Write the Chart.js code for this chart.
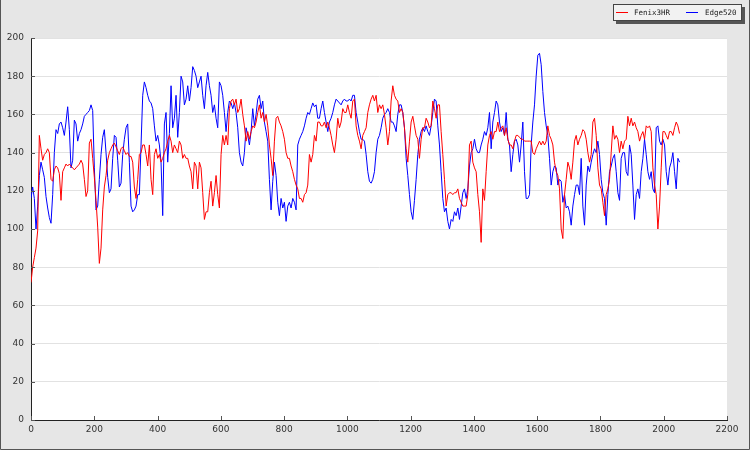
<!DOCTYPE html>
<html>
<head>
<meta charset="utf-8">
<script src="https://cdn.jsdelivr.net/npm/chart.js@4.4.1/dist/chart.umd.min.js"></script>
<style>
html,body{margin:0;padding:0;background:#e6e6e6;}
#c{display:block;}
</style>
</head>
<body>
<canvas id="c" width="750" height="450"></canvas>
<script>
// ---- data ----
const seriesNames = ["Fenix3HR", "Edge520"];
const sampleStep = 5.27; // distance between successive samples
const xTicks = [0, 200, 400, 600, 800, 1000, 1200, 1400, 1600, 1800, 2000, 2200];
const yTicks = [0, 20, 40, 60, 80, 100, 120, 140, 160, 180, 200];

const fenix = [
 72,80,85,90,99,149,142,136,139,140,142,140,126,125,131,133,132,129,115,130,132,134,133,134,133,132,131,132,133,134,136,134,126,117,120,145,147,137,127,115,101,82,90,110,122,128,136,140,142,144,145,143,141,139,142,143,141,139,140,138,138,135,122,116,126,
 139,140,144,144,139,133,144,126,118,139,142,137,139,135,137,140,142,146,149,146,140,144,142,140,146,144,137,139,137,137,133,130,121,135,133,121,135,132,119,105,109,109,119,125,112,119,128,118,111,139,149,144,149,144,163,167,168,165,168,161,163,168,160,154,146,151,147,151,154,
 153,156,161,165,158,161,156,160,154,144,137,128,146,158,159,156,154,151,147,140,137,137,133,130,126,123,121,116,116,114,118,119,123,139,135,139,149,146,156,156,154,154,156,153,156,153,149,144,140,147,158,153,156,163,161,161,165,161,158,167,168,154,149,146,142,149,151,153,161,
 165,168,170,167,170,161,165,163,165,160,153,144,151,167,175,170,168,167,161,163,161,153,142,135,146,156,159,154,149,147,137,147,153,153,158,156,153,154,167,163,158,165,165,151,139,126,112,118,119,119,118,119,119,121,116,114,112,112,112,118,144,146,135,132,130,118,109,93,121,
 115,130,144,149,151,147,151,151,156,151,153,154,149,153,147,144,144,142,146,149,149,148,147,147,146,146,146,146,146,140,139,142,144,146,144,146,144,146,154,149,147,144,135,130,128,121,100,95,118,126,135,132,126,135,146,149,144,147,149,152,151,147,140,135,139,156,158,149,132,
 123,121,114,107,118,121,126,140,154,147,149,147,140,146,142,146,147,159,154,158,154,156,153,151,146,149,151,147,154,153,154,151,132,123,118,100,112,132,151,151,149,147,151,151,149,153,156,154,150
];

const edge = [
 116,122,116,100,112,128,135,131,127,117,111,106,103,118,140,152,150,155,156,153,149,156,164,152,132,136,157,155,146,150,152,155,159,160,161,162,165,162,132,110,112,126,139,148,152,140,127,119,121,137,149,148,136,122,124,139,147,153,155,135,112,109,110,112,118,
 118,144,170,177,174,170,167,166,163,154,146,149,144,135,107,155,161,135,150,175,153,158,170,148,161,180,177,165,168,175,167,174,185,183,180,174,177,180,170,163,175,182,175,170,161,165,158,153,177,175,170,161,151,161,167,166,163,166,161,153,140,135,133,140,153,149,144,151,163,
 154,160,168,170,163,167,156,151,146,126,110,125,135,128,114,107,116,111,114,104,112,114,111,116,114,110,144,147,149,151,154,158,161,160,163,166,164,165,158,158,163,167,161,156,151,156,158,161,165,168,167,166,165,167,168,167,167,168,167,170,170,161,156,151,147,147,146,139,130,
 125,124,126,130,140,147,149,153,158,160,161,163,161,156,156,154,151,160,165,165,161,153,137,128,118,109,105,115,126,139,147,151,153,151,154,151,149,154,161,168,167,154,144,130,116,109,111,104,100,105,104,109,107,111,105,112,119,121,116,121,133,140,142,147,142,140,140,144,147,
 151,149,153,161,142,156,161,167,165,156,151,153,149,161,147,144,130,139,146,147,144,135,144,156,130,116,116,118,144,156,165,180,191,192,186,172,161,154,149,137,123,130,133,132,123,126,125,114,118,111,112,109,102,112,118,123,123,118,137,112,102,123,133,130,135,139,142,140,146,
 139,126,119,116,102,118,130,133,137,139,130,119,115,137,140,140,130,128,144,139,123,105,118,121,116,130,137,147,139,130,126,130,121,119,153,154,146,144,147,144,130,123,132,135,140,130,121,137,135
];

const seriesColors = ["#ff0000", "#0000ff"];

// ---- build datasets ----
function toPoints(values) {
  return values.map((v, i) => ({ x: +(i * sampleStep).toFixed(2), y: v }));
}

const AXIS = { left: 31, bottomHeight: 30 };

const framePlugin = {
  id: 'frame',
  beforeDraw(chart) {
    const { ctx, chartArea: a, width, height } = chart;
    ctx.save();
    ctx.fillStyle = '#e6e6e6';
    ctx.fillRect(0, 0, width, height);
    ctx.fillStyle = '#ffffff';
    ctx.fillRect(a.left, a.top, a.right - a.left, a.bottom - a.top);
    ctx.strokeStyle = '#555';
    ctx.lineWidth = 1;
    ctx.beginPath();
    ctx.moveTo(0.5, 0); ctx.lineTo(0.5, height - 0.5);
    ctx.lineTo(width - 0.5, height - 0.5); ctx.lineTo(width - 0.5, 0);
    ctx.stroke();
    ctx.restore();
  },
  afterDraw(chart) {
    const { ctx, chartArea: a, scales } = chart;
    ctx.save();
    ctx.strokeStyle = '#555';
    ctx.lineWidth = 1;
    ctx.beginPath();
    xTicks.forEach(t => {
      const px = Math.round(scales.x.getPixelForValue(t)) + 0.5;
      ctx.moveTo(px, a.bottom); ctx.lineTo(px, a.bottom - 4);
    });
    yTicks.forEach(t => {
      const py = Math.round(scales.y.getPixelForValue(t)) + 0.5;
      ctx.moveTo(a.left, py); ctx.lineTo(a.left + 4, py);
    });
    ctx.stroke();

    // legend box
    const bx = 613, by = 4, bw = 129, bh = 17;
    ctx.fillStyle = '#555';
    ctx.fillRect(bx + 3, by + 3, bw, bh);
    ctx.fillStyle = '#f2f2f2';
    ctx.fillRect(bx, by, bw, bh);
    ctx.strokeStyle = '#444';
    ctx.strokeRect(bx + 0.5, by + 0.5, bw - 1, bh - 1);
    const items = [
      { x: 616, tx: 634 },
      { x: 686, tx: 705 }
    ];
    ctx.font = '7.5px "DejaVu Sans Mono", monospace';
    ctx.textBaseline = 'middle';
    ctx.textAlign = 'left';
    items.forEach((it, i) => {
      ctx.strokeStyle = seriesColors[i];
      ctx.lineWidth = 1;
      ctx.beginPath();
      ctx.moveTo(it.x, by + 8.5); ctx.lineTo(it.x + 12, by + 8.5);
      ctx.stroke();
      ctx.fillStyle = '#222';
      ctx.fillText(seriesNames[i], it.tx, by + 9);
    });
    ctx.restore();
  }
};

new Chart(document.getElementById('c'), {
  type: 'line',
  data: {
    datasets: [
      { label: seriesNames[0], data: toPoints(fenix), borderColor: seriesColors[0], borderWidth: 1, pointRadius: 0, tension: 0, fill: false },
      { label: seriesNames[1], data: toPoints(edge), borderColor: seriesColors[1], borderWidth: 1, pointRadius: 0, tension: 0, fill: false }
    ]
  },
  options: {
    responsive: false,
    animation: false,
    devicePixelRatio: 1,
    layout: { padding: { left: 0, top: 38, right: 23, bottom: 0 } },
    plugins: { legend: { display: false }, tooltip: { enabled: false } },
    scales: {
      x: {
        type: 'linear', min: 0, max: 2200,
        afterBuildTicks(scale) { scale.ticks = xTicks.map(v => ({ value: v })); },
        afterFit(scale) { scale.height = AXIS.bottomHeight; },
        ticks: { color: '#333', font: { family: 'DejaVu Sans', size: 9 }, padding: 4, maxRotation: 0,
                 callback: v => String(v) },
        grid: { display: false, drawTicks: false },
        border: { display: true, color: '#222', width: 1 }
      },
      y: {
        type: 'linear', min: 0, max: 200,
        afterBuildTicks(scale) { scale.ticks = yTicks.map(v => ({ value: v })); },
        afterFit(scale) { scale.width = AXIS.left; },
        ticks: { color: '#333', font: { family: 'DejaVu Sans', size: 9 }, padding: 7,
                 callback: v => String(v) },
        grid: { color: '#e2e2e2', lineWidth: 1, drawTicks: false },
        border: { display: true, color: '#222', width: 1 }
      }
    }
  },
  plugins: [framePlugin]
});
</script>
</body>
</html>
